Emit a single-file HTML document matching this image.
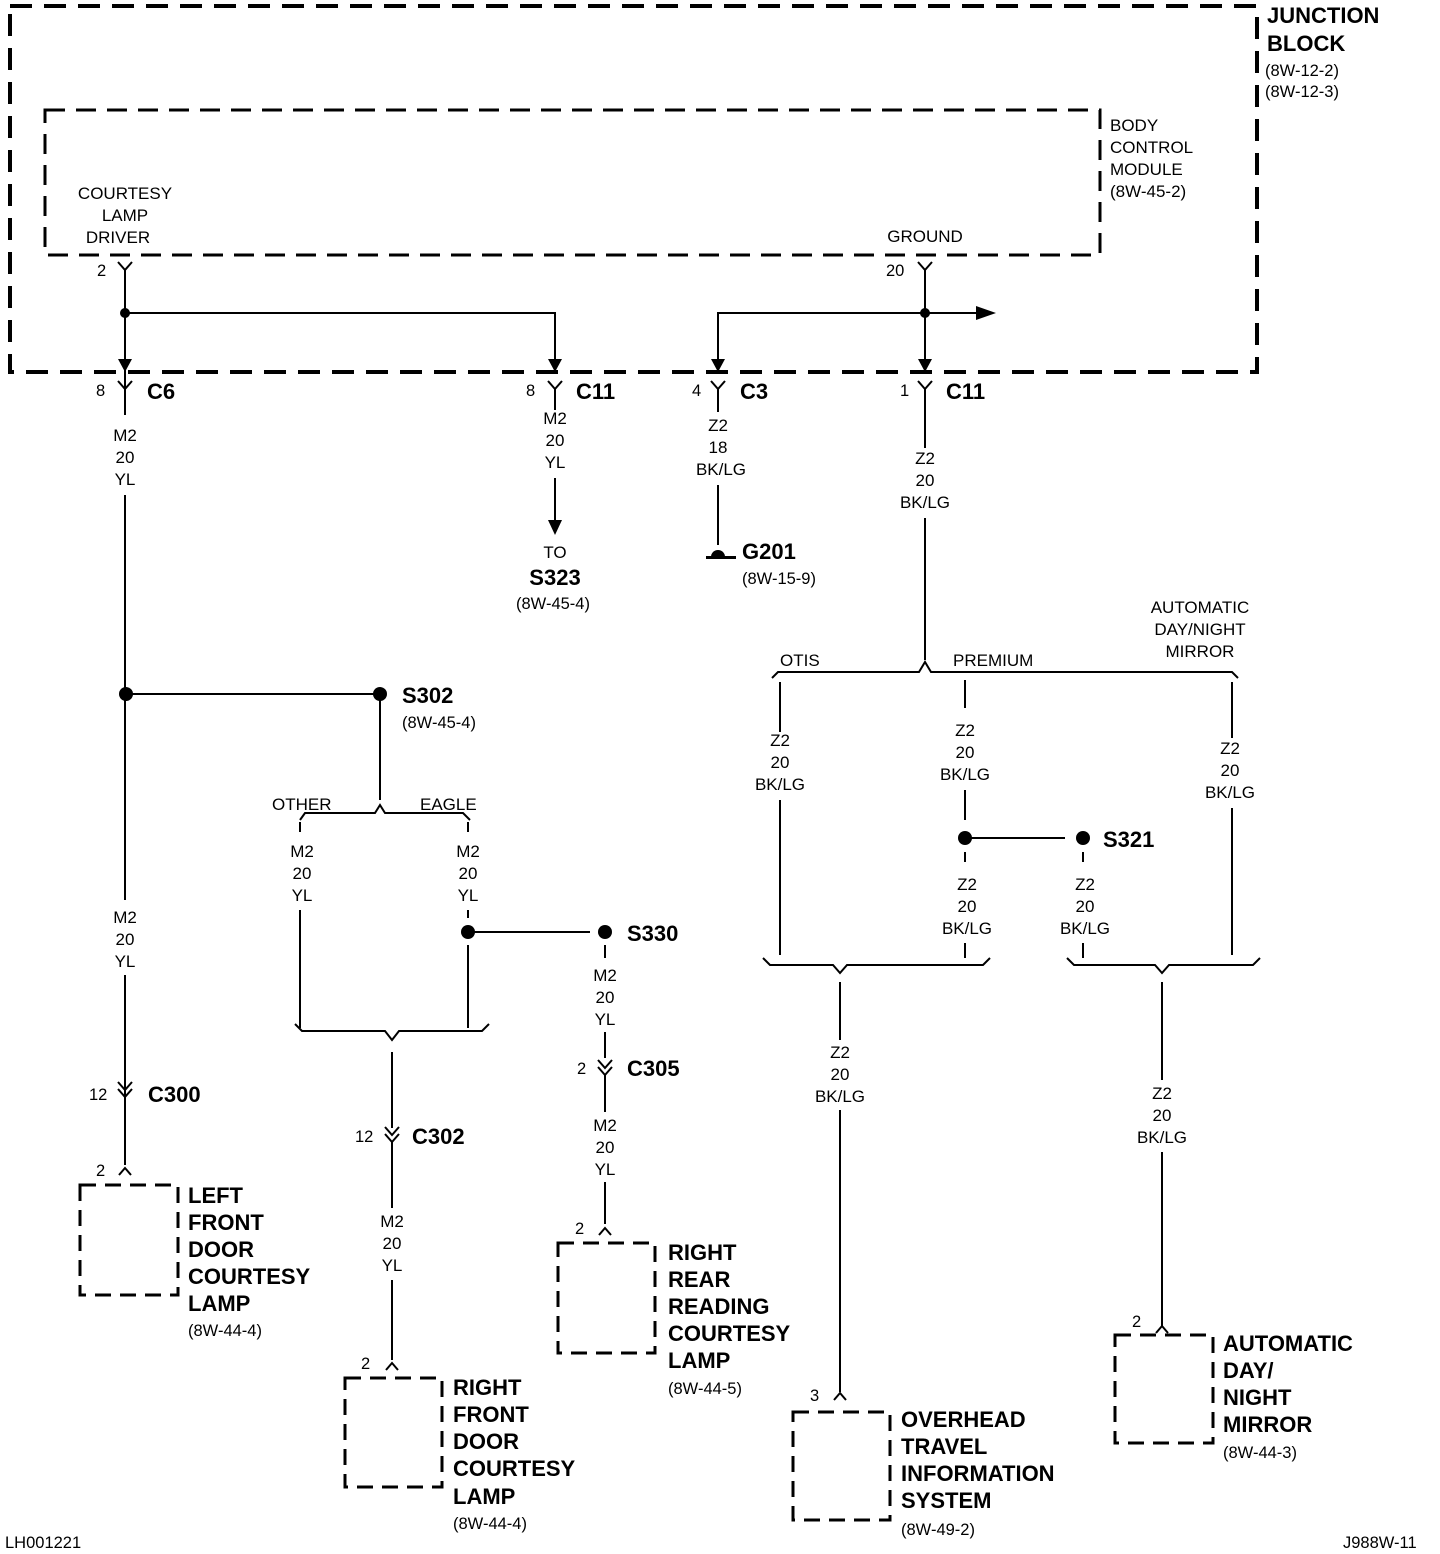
<!DOCTYPE html>
<html><head><meta charset="utf-8"><style>
html,body{margin:0;padding:0;background:#fff}
svg{display:block}
text{font-family:"Liberation Sans",sans-serif;fill:#000}
.w{font-size:17px;text-anchor:middle}
.s{font-size:17px}
.b{font-size:22px;font-weight:bold}
.r{font-size:16.5px}
</style></head><body>
<svg width="1440" height="1554" viewBox="0 0 1440 1554" xmlns="http://www.w3.org/2000/svg">
<g fill="none" stroke="#000">
<rect x="10" y="6" width="1247" height="366" stroke-width="4" stroke-dasharray="22,12"/>
<rect x="45" y="110" width="1055" height="145" stroke-width="3" stroke-dasharray="20,11"/>
<g stroke-width="3" stroke-dasharray="16,9">
<rect x="80" y="1185" width="98" height="110"/>
<rect x="345" y="1378" width="97" height="109"/>
<rect x="558" y="1243" width="97" height="110"/>
<rect x="793" y="1412" width="97" height="108"/>
<rect x="1115" y="1335" width="98" height="108"/>
</g>
<g stroke-width="2">
<path d="M118,262 L125,270 L132,262 M918,262 L925,270 L932,262"/>
<path d="M125,270 V415 M125,495 V900 M125,975 V1165"/>
<path d="M125,313 H555 V370"/>
<path d="M925,270 V370 M718,370 V313 H985"/>
<path d="M118,381 L125,389 L132,381 M548,381 L555,389 L562,381 M711,381 L718,389 L725,381 M918,381 L925,389 L932,381"/>
<path d="M125,389 V400 M555,389 V410 M718,389 V412 M925,389 V448"/>
<path d="M555,478 V522"/>
<path d="M718,485 V545"/>
<path d="M118,1082 L125,1090 L132,1082 M118,1089 L125,1097 L132,1089 M125,1097 V1160"/>
<path d="M119,1175 L125,1168 L131,1175"/>
<path d="M125,694 H380 V800"/>
<path d="M300,820 L305,813 H375 L380,805 L385,813 H463 L470,820"/>
<path d="M300,822 V832 M300,910 V1028 M468,822 V832 M468,910 V918 M468,945 V1028"/>
<path d="M295,1024 L302,1031 H385 L392,1040 L399,1031 H482 L489,1024"/>
<path d="M392,1052 V1128"/>
<path d="M385,1127 L392,1135 L399,1127 M385,1134 L392,1142 L399,1134 M392,1142 V1208 M392,1280 V1360"/>
<path d="M386,1370 L392,1363 L398,1370"/>
<path d="M468,932 H590 M605,945 V958 M605,1032 V1058"/>
<path d="M598,1060 L605,1068 L612,1060 M598,1067 L605,1075 L612,1067 M605,1075 V1112 M605,1182 V1224"/>
<path d="M599,1235 L605,1228 L611,1235"/>
<path d="M925,518 V660"/>
<path d="M772,678 L778,672 H919 L925,662 L931,672 H1232 L1238,678"/>
<path d="M780,682 V732 M780,800 V955 M965,680 V708 M965,790 V820 M1232,682 V738 M1232,808 V955"/>
<path d="M965,838 H1065 M965,852 V862 M965,943 V958 M1083,852 V862 M1083,943 V958"/>
<path d="M763,958 L770,965 H833 L840,973 L847,965 H983 L990,958"/>
<path d="M1067,958 L1074,965 H1155 L1162,973 L1169,965 H1253 L1260,958"/>
<path d="M840,982 V1040 M840,1110 V1392 M1162,982 V1080 M1162,1152 V1326"/>
<path d="M834,1400 L840,1393 L846,1400 M1156,1333 L1162,1326 L1168,1333"/>
</g>
</g>
<g fill="#000">
<path d="M118,359 L125,372 L132,359 Z M548,359 L555,372 L562,359 Z M711,359 L718,372 L725,359 Z M918,359 L925,372 L932,359 Z"/>
<path d="M976,306 L996,313 L976,320 Z"/>
<path d="M548,520 L555,535 L562,520 Z"/>
<circle cx="125" cy="313" r="5"/><circle cx="925" cy="313" r="5"/>
<circle cx="126" cy="694" r="7"/><circle cx="380" cy="694" r="7"/>
<circle cx="468" cy="932" r="7"/><circle cx="605" cy="932" r="7"/>
<circle cx="965" cy="838" r="7"/><circle cx="1083" cy="838" r="7"/>
<path d="M711,557 A7,7 0 0 1 725,557 Z"/>
<rect x="706" y="556" width="30" height="3"/>
</g>
<text class="b" x="1267" y="23">JUNCTION</text>
<text class="b" x="1267" y="51">BLOCK</text>
<text class="r" x="1265" y="76">(8W-12-2)</text>
<text class="r" x="1265" y="97">(8W-12-3)</text>
<text class="s" x="1110" y="131">BODY</text>
<text class="s" x="1110" y="153">CONTROL</text>
<text class="s" x="1110" y="175">MODULE</text>
<text class="s" x="1110" y="197">(8W-45-2)</text>
<text class="w" x="125" y="199">COURTESY</text>
<text class="w" x="125" y="221">LAMP</text>
<text class="w" x="118" y="243">DRIVER</text>
<text class="w" x="925" y="242">GROUND</text>
<text class="r" x="97" y="276">2</text>
<text class="r" x="886" y="276">20</text>
<text class="r" x="96" y="396">8</text><text class="b" x="147" y="399">C6</text>
<text class="r" x="526" y="396">8</text><text class="b" x="576" y="399">C11</text>
<text class="r" x="692" y="396">4</text><text class="b" x="740" y="399">C3</text>
<text class="r" x="900" y="396">1</text><text class="b" x="946" y="399">C11</text>
<text class="w" x="125" y="441">M2</text><text class="w" x="125" y="463">20</text><text class="w" x="125" y="485">YL</text>
<text class="w" x="555" y="424">M2</text><text class="w" x="555" y="446">20</text><text class="w" x="555" y="468">YL</text>
<text class="w" x="555" y="558">TO</text>
<text class="b" x="555" y="585" text-anchor="middle">S323</text>
<text class="r" x="553" y="609" text-anchor="middle">(8W-45-4)</text>
<text class="w" x="718" y="431">Z2</text><text class="w" x="718" y="453">18</text><text class="w" x="721" y="475">BK/LG</text>
<text class="b" x="742" y="559">G201</text>
<text class="r" x="742" y="584">(8W-15-9)</text>
<text class="w" x="925" y="464">Z2</text><text class="w" x="925" y="486">20</text><text class="w" x="925" y="508">BK/LG</text>
<text class="w" x="1200" y="613">AUTOMATIC</text><text class="w" x="1200" y="635">DAY/NIGHT</text><text class="w" x="1200" y="657">MIRROR</text>
<text class="s" x="780" y="666">OTIS</text>
<text class="s" x="953" y="666">PREMIUM</text>
<text class="w" x="780" y="746">Z2</text><text class="w" x="780" y="768">20</text><text class="w" x="780" y="790">BK/LG</text>
<text class="w" x="965" y="736">Z2</text><text class="w" x="965" y="758">20</text><text class="w" x="965" y="780">BK/LG</text>
<text class="w" x="1230" y="754">Z2</text><text class="w" x="1230" y="776">20</text><text class="w" x="1230" y="798">BK/LG</text>
<text class="b" x="1103" y="847">S321</text>
<text class="w" x="967" y="890">Z2</text><text class="w" x="967" y="912">20</text><text class="w" x="967" y="934">BK/LG</text>
<text class="w" x="1085" y="890">Z2</text><text class="w" x="1085" y="912">20</text><text class="w" x="1085" y="934">BK/LG</text>
<text class="w" x="840" y="1058">Z2</text><text class="w" x="840" y="1080">20</text><text class="w" x="840" y="1102">BK/LG</text>
<text class="w" x="1162" y="1099">Z2</text><text class="w" x="1162" y="1121">20</text><text class="w" x="1162" y="1143">BK/LG</text>
<text class="b" x="402" y="703">S302</text>
<text class="r" x="402" y="728">(8W-45-4)</text>
<text class="s" x="272" y="810">OTHER</text>
<text class="s" x="420" y="810">EAGLE</text>
<text class="w" x="302" y="857">M2</text><text class="w" x="302" y="879">20</text><text class="w" x="302" y="901">YL</text>
<text class="w" x="468" y="857">M2</text><text class="w" x="468" y="879">20</text><text class="w" x="468" y="901">YL</text>
<text class="b" x="627" y="941">S330</text>
<text class="w" x="605" y="981">M2</text><text class="w" x="605" y="1003">20</text><text class="w" x="605" y="1025">YL</text>
<text class="r" x="577" y="1074">2</text><text class="b" x="627" y="1076">C305</text>
<text class="w" x="605" y="1131">M2</text><text class="w" x="605" y="1153">20</text><text class="w" x="605" y="1175">YL</text>
<text class="w" x="125" y="923">M2</text><text class="w" x="125" y="945">20</text><text class="w" x="125" y="967">YL</text>
<text class="r" x="89" y="1100">12</text><text class="b" x="148" y="1102">C300</text>
<text class="r" x="96" y="1176">2</text>
<text class="r" x="355" y="1142">12</text><text class="b" x="412" y="1144">C302</text>
<text class="w" x="392" y="1227">M2</text><text class="w" x="392" y="1249">20</text><text class="w" x="392" y="1271">YL</text>
<text class="r" x="361" y="1369">2</text>
<text class="r" x="575" y="1234">2</text>
<text class="r" x="810" y="1401">3</text>
<text class="r" x="1132" y="1327">2</text>
<text class="b" x="188" y="1203">LEFT</text><text class="b" x="188" y="1230">FRONT</text><text class="b" x="188" y="1257">DOOR</text><text class="b" x="188" y="1284">COURTESY</text><text class="b" x="188" y="1311">LAMP</text>
<text class="r" x="188" y="1336">(8W-44-4)</text>
<text class="b" x="453" y="1395">RIGHT</text><text class="b" x="453" y="1422">FRONT</text><text class="b" x="453" y="1449">DOOR</text><text class="b" x="453" y="1476">COURTESY</text><text class="b" x="453" y="1504">LAMP</text>
<text class="r" x="453" y="1529">(8W-44-4)</text>
<text class="b" x="668" y="1260">RIGHT</text><text class="b" x="668" y="1287">REAR</text><text class="b" x="668" y="1314">READING</text><text class="b" x="668" y="1341">COURTESY</text><text class="b" x="668" y="1368">LAMP</text>
<text class="r" x="668" y="1394">(8W-44-5)</text>
<text class="b" x="901" y="1427">OVERHEAD</text><text class="b" x="901" y="1454">TRAVEL</text><text class="b" x="901" y="1481">INFORMATION</text><text class="b" x="901" y="1508">SYSTEM</text>
<text class="r" x="901" y="1535">(8W-49-2)</text>
<text class="b" x="1223" y="1351">AUTOMATIC</text><text class="b" x="1223" y="1378">DAY/</text><text class="b" x="1223" y="1405">NIGHT</text><text class="b" x="1223" y="1432">MIRROR</text>
<text class="r" x="1223" y="1458">(8W-44-3)</text>
<text class="r" x="5" y="1548">LH001221</text>
<text class="r" x="1343" y="1548">J988W-11</text>
</svg>
</body></html>
